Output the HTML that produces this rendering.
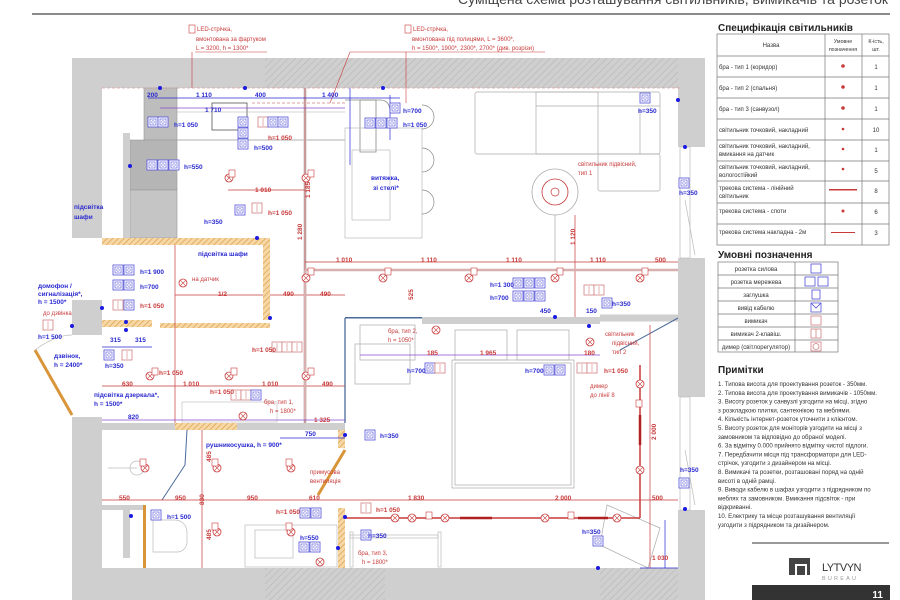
<!DOCTYPE html>
<html><head><meta charset="utf-8"><style>
html,body{margin:0;padding:0;background:#fff;width:900px;height:600px;overflow:hidden}
svg{display:block}
text{font-family:"Liberation Sans","DejaVu Sans",sans-serif}
.r{fill:#c83a3a;font-size:6px}
.b{fill:#2a2ad0;font-size:6.5px;font-weight:bold}
.rd{fill:#c83a3a;font-size:6.5px;font-weight:bold}
.t{fill:#333;font-size:6px}
.n{fill:#333;font-size:6.1px}
</style></head><body>
<svg width="900" height="600" viewBox="0 0 900 600" xmlns="http://www.w3.org/2000/svg">
<defs>
<pattern id="h" width="5" height="5" patternUnits="userSpaceOnUse" patternTransform="rotate(45)"><rect width="5" height="5" fill="#cfcfcf"/><line x1="0" y1="0" x2="0" y2="5" stroke="#b3b3b3" stroke-width="1"/></pattern>
<pattern id="o" width="4" height="4" patternUnits="userSpaceOnUse" patternTransform="rotate(45)"><rect width="4" height="4" fill="#f6d7a6"/><line x1="0" y1="0" x2="0" y2="4" stroke="#d9953a" stroke-width="1.2"/></pattern>
<g id="sk"><rect x="0" y="0" width="10" height="10" fill="#fff" stroke="#5050d8" stroke-width="0.8"/><rect x="2" y="2" width="6" height="6" fill="none" stroke="#5050d8" stroke-width="0.6"/><circle cx="5" cy="5" r="1.3" fill="none" stroke="#5050d8" stroke-width="0.5"/></g>
<g id="sw"><rect x="0" y="0" width="10" height="10" fill="#fff" stroke="#d08080" stroke-width="0.8"/><line x1="5" y1="1" x2="5" y2="9" stroke="#d08080" stroke-width="0.6"/></g>
<g id="lp"><circle cx="0" cy="0" r="4" fill="#fff" stroke="#c83a3a" stroke-width="0.8"/><line x1="-2.8" y1="-2.8" x2="2.8" y2="2.8" stroke="#c83a3a" stroke-width="0.6"/><line x1="2.8" y1="-2.8" x2="-2.8" y2="2.8" stroke="#c83a3a" stroke-width="0.6"/></g>
<g id="tg"><rect x="0" y="0" width="6" height="7" fill="#fff" stroke="#c83a3a" stroke-width="0.6"/></g>
</defs>

<!-- header -->
<text x="888" y="4" text-anchor="end" font-size="14" fill="#444">Суміщена схема розташування світильників, вимикачів та розеток</text>
<line x1="32" y1="14" x2="890" y2="14" stroke="#444" stroke-width="1.2"/>

<!-- walls -->
<rect x="72" y="58" width="606" height="30" fill="#cfcfcf"/>
<rect x="265" y="58" width="413" height="30" fill="url(#h)"/>
<rect x="72" y="58" width="30" height="180" fill="#cfcfcf"/>
<rect x="72" y="300" width="30" height="35" fill="#cfcfcf"/>
<rect x="72" y="417" width="30" height="183" fill="#cfcfcf"/>
<rect x="72" y="568" width="606" height="32" fill="#cfcfcf"/>
<rect x="265" y="568" width="120" height="32" fill="url(#h)"/>
<rect x="600" y="568" width="78" height="32" fill="url(#h)"/>
<rect x="678" y="58" width="27" height="89" fill="#cfcfcf"/>
<rect x="678" y="258" width="27" height="139" fill="#cfcfcf"/>
<rect x="678" y="510" width="27" height="90" fill="#cfcfcf"/>
<g fill="none" stroke="#bbb" stroke-width="0.7">
<rect x="680" y="147" width="10" height="111"/><rect x="680" y="397" width="10" height="113"/>
<line x1="685" y1="200" x2="695" y2="255"/><line x1="685" y1="450" x2="695" y2="505"/>
</g>
<line x1="35" y1="350" x2="72" y2="415" stroke="#d9953a" stroke-width="3"/>
<path d="M35 350 Q55 335 72 335" fill="none" stroke="#bbb" stroke-width="0.7"/>

<!-- LED callouts -->
<g stroke="#c83a3a" stroke-width="0.6" fill="#fff">
<rect x="189" y="25" width="6" height="8"/><rect x="405" y="25" width="6" height="8"/>
<line x1="195" y1="52" x2="267" y2="52"/><line x1="192" y1="52" x2="192" y2="88"/>
<line x1="350" y1="52" x2="545" y2="52"/><line x1="350" y1="52" x2="330" y2="103"/><line x1="406" y1="52" x2="406" y2="103"/>
</g>

<!-- kitchen -->
<rect x="144" y="88" width="33" height="52" fill="#bdbdbd" stroke="#999" stroke-width="0.6"/>
<rect x="130" y="140" width="47" height="50" fill="#b5b5b5" stroke="#999" stroke-width="0.6"/>
<rect x="130" y="190" width="47" height="48" fill="#c5c5c5" stroke="#999" stroke-width="0.6"/>
<rect x="123" y="133" width="7" height="105" fill="#cfcfcf"/>
<line x1="177" y1="140" x2="345" y2="140" stroke="#999" stroke-width="0.7"/>
<rect x="212" y="103" width="35" height="27" fill="none" stroke="#555" stroke-width="0.8"/>
<line x1="177" y1="112" x2="345" y2="112" stroke="#aaa" stroke-width="0.6"/>
<line x1="252" y1="103" x2="345" y2="103" stroke="#d08080" stroke-width="0.7" stroke-dasharray="3 2"/>
<path d="M360 100 L360 152 L376 152 L376 100 Z" fill="none" stroke="#888" stroke-width="0.8"/>
<path d="M345 100 H380 Q390 100 390 112" fill="none" stroke="#888" stroke-width="0.8"/>
<rect x="345" y="128" width="77" height="110" fill="none" stroke="#bbb" stroke-width="0.7"/>
<rect x="352" y="150" width="38" height="70" fill="none" stroke="#bbb" stroke-width="0.7"/>
<g fill="none" stroke="#888" stroke-width="0.7"><path d="M422 105 a12 12 0 0 1 0 24"/><path d="M422 148 a12 12 0 0 1 0 24"/><path d="M422 190 a12 12 0 0 1 0 24"/></g>
<line x1="102" y1="88" x2="680" y2="88" stroke="#e0a0a0" stroke-width="0.8" stroke-dasharray="3 2"/>

<!-- sofa -->
<g fill="none" stroke="#aaa" stroke-width="0.7">
<rect x="475" y="92" width="185" height="62" rx="2"/><rect x="536" y="92" width="62" height="62"/><line x1="536" y1="106" x2="660" y2="106"/>
<rect x="598" y="154" width="62" height="37" rx="2"/><line x1="640" y1="110" x2="640" y2="154"/>
</g>
<circle cx="555" cy="192" r="23" fill="none" stroke="#aaa" stroke-width="0.8"/>
<circle cx="555" cy="192" r="13" fill="none" stroke="#c83a3a" stroke-width="0.8"/>
<circle cx="555" cy="192" r="4" fill="none" stroke="#c83a3a" stroke-width="0.7"/>
<line x1="555" y1="215" x2="555" y2="262" stroke="#aaa" stroke-width="0.7"/>

<!-- hallway orange walls -->
<rect x="102" y="238" width="168" height="7" fill="url(#o)"/>
<rect x="263" y="238" width="7" height="82" fill="url(#o)"/>
<rect x="102" y="320" width="50" height="7" fill="url(#o)"/>
<rect x="160" y="323" width="110" height="5" fill="url(#o)"/>
<rect x="102" y="423" width="243" height="7" fill="#cfcfcf"/>
<rect x="175" y="423" width="62" height="7" fill="url(#o)"/>
<line x1="305" y1="88" x2="305" y2="423" stroke="#ccc" stroke-width="3"/>
<rect x="422" y="317" width="178" height="7" fill="#cfcfcf"/>
<rect x="345" y="317" width="77" height="1.5" fill="#4a6a9a"/>
<line x1="345" y1="318" x2="345" y2="423" stroke="#4a6a9a" stroke-width="1.3"/>
<line x1="600" y1="318" x2="678" y2="318" stroke="#cfcfcf" stroke-width="7"/>
<line x1="620" y1="350" x2="678" y2="318" stroke="#4a6a9a" stroke-width="1"/>
<rect x="338" y="430" width="7" height="18" fill="url(#o)"/>
<line x1="345" y1="450" x2="318" y2="495" stroke="#d9953a" stroke-width="3"/>
<rect x="338" y="508" width="7" height="60" fill="url(#o)"/>
<path d="M187 430 L185 465 L162 500" fill="none" stroke="#4a6a9a" stroke-width="1"/>
<rect x="102" y="505" width="44" height="5" fill="#cfcfcf"/>
<rect x="123" y="510" width="7" height="48" fill="#cfcfcf"/>
<rect x="143" y="505" width="3" height="63" fill="#d9953a"/>
<rect x="355" y="344" width="55" height="40" fill="none" stroke="#aaa" stroke-width="0.7"/>
<rect x="182" y="402" width="95" height="20" fill="none" stroke="#bbb" stroke-width="0.6"/>

<!-- bathroom fixtures -->
<g fill="none" stroke="#bbb" stroke-width="0.7">
<circle cx="137" cy="468" r="7"/><line x1="108" y1="468" x2="137" y2="468"/>
<path d="M153 520 H175 a12 12 0 0 1 12 12 v10 a10 10 0 0 1 -10 10 H153 Z"/>
<rect x="245" y="525" width="92" height="42"/><rect x="255" y="530" width="38" height="28"/>
<rect x="350" y="535" width="88" height="3"/><rect x="350" y="532" width="3" height="35"/><rect x="438" y="532" width="3" height="35"/>
</g>

<!-- bed -->
<g fill="none" stroke="#aaa" stroke-width="0.7">
<rect x="452" y="360" width="122" height="128"/><rect x="455" y="363" width="116" height="122"/>
<rect x="455" y="330" width="52" height="30"/><rect x="517" y="330" width="52" height="30"/>
<rect x="360" y="325" width="55" height="35"/>
<path d="M607 505 L660 528 L648 568 L600 545 Z"/>
</g>

<!-- red dimension & track lines -->
<g stroke="#c83a3a" stroke-width="0.7" fill="none">
<line x1="305" y1="262" x2="678" y2="262"/>
<line x1="270" y1="295" x2="345" y2="295"/>
<line x1="102" y1="386" x2="345" y2="386"/>
<line x1="102" y1="500" x2="678" y2="500"/>
<line x1="305" y1="88" x2="305" y2="423"/>
<line x1="202" y1="430" x2="202" y2="568"/>
<line x1="228" y1="190" x2="305" y2="190"/>
<line x1="175" y1="295" x2="263" y2="295"/>
<line x1="175" y1="245" x2="175" y2="423"/>
<line x1="575" y1="215" x2="575" y2="317"/>
<line x1="650" y1="325" x2="650" y2="568"/>
<line x1="390" y1="95" x2="390" y2="140" stroke="#2a2ad0"/>
<line x1="350" y1="88" x2="350" y2="165" stroke="#2a2ad0"/>
</g>
<g stroke="#d8b0b0" stroke-width="2.5"><line x1="305" y1="270" x2="678" y2="270"/><line x1="305" y1="270" x2="305" y2="420"/></g>
<g stroke="#c83a3a" stroke-width="1.5" fill="none">
<line x1="345" y1="518" x2="640" y2="518"/><line x1="640" y1="365" x2="640" y2="518"/>
</g>
<g stroke="#b02020" stroke-width="2.5"><line x1="460" y1="518" x2="492" y2="518"/><line x1="578" y1="518" x2="608" y2="518"/><line x1="640" y1="415" x2="640" y2="445"/></g>
<g stroke="#8a4ad0" stroke-width="0.7"><line x1="360" y1="355" x2="600" y2="355"/><line x1="102" y1="420" x2="345" y2="420"/><line x1="160" y1="108" x2="345" y2="108"/></g>
<g stroke="#2a2ad0" stroke-width="0.7"><line x1="148" y1="98" x2="400" y2="98"/><line x1="102" y1="347" x2="152" y2="347"/><line x1="345" y1="438" x2="280" y2="438"/><line x1="640" y1="568" x2="678" y2="568"/><line x1="665" y1="520" x2="665" y2="568"/></g>

<!-- lamps -->
<use href="#lp" x="229" y="178"/><use href="#lp" x="306" y="178"/><use href="#lp" x="306" y="278"/><use href="#lp" x="383" y="278"/><use href="#lp" x="469" y="278"/><use href="#lp" x="555" y="278"/><use href="#lp" x="640" y="278"/>
<use href="#lp" x="183" y="283"/><use href="#lp" x="150" y="376"/><use href="#lp" x="229" y="376"/><use href="#lp" x="306" y="376"/><use href="#lp" x="243" y="416"/>
<use href="#lp" x="145" y="468"/><use href="#lp" x="217" y="468"/><use href="#lp" x="291" y="468"/><use href="#lp" x="217" y="532"/><use href="#lp" x="291" y="532"/><use href="#lp" x="320" y="562"/><use href="#lp" x="436" y="330"/><use href="#lp" x="590" y="342"/>
<use href="#lp" x="395" y="518"/><use href="#lp" x="445" y="518"/><use href="#lp" x="545" y="518"/><use href="#lp" x="617" y="518"/><use href="#lp" x="640" y="384"/><use href="#lp" x="640" y="470"/><use href="#lp" x="412" y="518"/>
<g><use href="#tg" x="229" y="170"/><use href="#tg" x="308" y="170"/><use href="#tg" x="308" y="268"/><use href="#tg" x="385" y="268"/><use href="#tg" x="471" y="268"/><use href="#tg" x="557" y="268"/><use href="#tg" x="642" y="268"/><use href="#tg" x="152" y="368"/><use href="#tg" x="231" y="368"/><use href="#tg" x="308" y="368"/><use href="#tg" x="212" y="459"/><use href="#tg" x="286" y="459"/><use href="#tg" x="212" y="523"/><use href="#tg" x="286" y="523"/><use href="#tg" x="140" y="459"/><use href="#tg" x="426" y="512"/><use href="#tg" x="568" y="512"/><use href="#tg" x="636" y="400"/></g>

<!-- sockets & switches -->
<use href="#sk" x="148" y="117"/><use href="#sk" x="158" y="117"/>
<use href="#sk" x="238" y="117"/><use href="#sk" x="238" y="128"/><use href="#sk" x="238" y="139"/>
<use href="#sw" x="258" y="117"/><use href="#sk" x="268" y="117"/><use href="#sk" x="278" y="117"/>
<use href="#sk" x="147" y="160"/><use href="#sk" x="158" y="160"/><use href="#sk" x="169" y="160"/>
<use href="#sk" x="390" y="103"/><use href="#sk" x="365" y="118"/><use href="#sk" x="376" y="118"/><use href="#sk" x="387" y="118"/>
<use href="#sk" x="235" y="205"/><use href="#sw" x="252" y="203"/>
<use href="#sk" x="640" y="93"/><use href="#sk" x="679" y="178"/>
<use href="#sk" x="113" y="265"/><use href="#sk" x="124" y="265"/><use href="#sk" x="113" y="280"/><use href="#sk" x="124" y="280"/><use href="#sw" x="113" y="300"/><use href="#sk" x="124" y="300"/>
<use href="#sk" x="104" y="350"/><use href="#sw" x="122" y="350"/><use href="#sw" x="43" y="320"/>
<use href="#sw" x="272" y="342"/><use href="#sw" x="282" y="342"/><use href="#sw" x="292" y="342"/>
<use href="#sw" x="231" y="390"/><use href="#sw" x="241" y="390"/><use href="#sk" x="251" y="390"/>
<use href="#sk" x="365" y="430"/><use href="#sk" x="151" y="510"/>
<use href="#sk" x="300" y="508"/><use href="#sk" x="311" y="508"/><use href="#sk" x="299" y="542"/><use href="#sk" x="310" y="542"/><use href="#sk" x="361" y="530"/>
<use href="#sw" x="361" y="503"/>
<use href="#sk" x="513" y="278"/><use href="#sk" x="524" y="278"/><use href="#sk" x="535" y="278"/><use href="#sk" x="513" y="291"/><use href="#sk" x="524" y="291"/><use href="#sk" x="535" y="291"/>
<use href="#sw" x="584" y="285"/><use href="#sw" x="594" y="285"/><use href="#sk" x="602" y="298"/>
<use href="#sk" x="425" y="363"/><use href="#sw" x="435" y="363"/><use href="#sk" x="544" y="365"/><use href="#sk" x="555" y="365"/><use href="#sw" x="577" y="363"/><use href="#sw" x="587" y="363"/>
<use href="#sk" x="679" y="478"/><use href="#sk" x="593" y="536"/>
<g fill="#1a1ae0"><circle cx="160" cy="88" r="2"/><circle cx="245" cy="88" r="2"/><circle cx="383" cy="88" r="2"/><circle cx="678" cy="100" r="2"/><circle cx="685" cy="147" r="2"/><circle cx="130" cy="166" r="2"/><circle cx="257" cy="238" r="2"/><circle cx="126" cy="322" r="2"/><circle cx="126" cy="330" r="2"/><circle cx="102" cy="308" r="2"/><circle cx="270" cy="318" r="2"/><circle cx="345" cy="435" r="2"/><circle cx="131" cy="516" r="2"/><circle cx="345" cy="517" r="2"/><circle cx="338" cy="548" r="2"/><circle cx="555" cy="317" r="2"/><circle cx="589" cy="326" r="2"/><circle cx="598" cy="568" r="2"/><circle cx="685" cy="509" r="2"/><circle cx="72" cy="326" r="2"/></g>

<!-- labels plan -->
<g class="b">
<text x="174" y="127">h=1 050</text><text x="254" y="150">h=500</text><text x="204" y="224">h=350</text><text x="184" y="169">h=550</text>
<text x="403" y="113">h=700</text><text x="403" y="127">h=1 050</text><text x="638" y="113">h=350</text><text x="679" y="195">h=350</text>
<text x="140" y="274">h=1 900</text><text x="140" y="289">h=700</text><text x="105" y="368">h=350</text><text x="38" y="339">h=1 500</text>
<text x="380" y="438">h=350</text><text x="167" y="519">h=1 500</text><text x="368" y="538">h=350</text><text x="300" y="540">h=550</text>
<text x="490" y="287">h=1 300</text><text x="490" y="300">h=700</text><text x="612" y="306">h=350</text><text x="407" y="373">h=700</text><text x="525" y="373">h=700</text>
<text x="680" y="472">h=350</text><text x="582" y="534">h=350</text>
<text x="147" y="97">200</text><text x="196" y="97">1 110</text><text x="255" y="97">400</text><text x="322" y="97">1 400</text><text x="205" y="112">1 710</text>
<text x="540" y="313">450</text><text x="586" y="313">150</text>
<text x="110" y="342">315</text><text x="135" y="342">315</text><text x="128" y="419">820</text><text x="305" y="436">750</text>
</g>
<g class="r">
<text x="197" y="31">LED-стрічка,</text><text x="196" y="41">вмонтована за фартуком</text><text x="196" y="50">L = 3200, h = 1300*</text>
<text x="413" y="31">LED-стрічка,</text><text x="412" y="41">вмонтована під полицями, L = 3600*,</text><text x="412" y="50">h = 1500*, 1900*, 2300*, 2700* (див. розрізи)</text>
<text x="578" y="166">світильник підвісний,</text><text x="578" y="175">тип 1</text>
<text x="605" y="336">світильник</text><text x="612" y="345">підвісний,</text><text x="612" y="354">тип 2</text>
<text x="388" y="333">бра, тип 2,</text><text x="388" y="342">h = 1050*</text>
<text x="264" y="404">бра, тип 1,</text><text x="270" y="413">h = 1800*</text>
<text x="358" y="555">бра, тип 3,</text><text x="362" y="564">h = 1800*</text>
<text x="310" y="474">примусова</text><text x="310" y="483">вентиляція</text>
<text x="590" y="388">димер</text><text x="590" y="397">до лінії 8</text>
<text x="192" y="281">на датчик</text><text x="43" y="315">до дзвінка</text>
</g>
<g class="rd">
<text x="255" y="192">1 010</text><text x="336" y="262">1 010</text><text x="421" y="262">1 110</text><text x="506" y="262">1 110</text><text x="590" y="262">1 110</text><text x="655" y="262">500</text>
<text x="218" y="296">1/2</text><text x="283" y="296">490</text><text x="320" y="296">490</text>
<text x="122" y="386">630</text><text x="183" y="386">1 010</text><text x="262" y="386">1 010</text><text x="322" y="386">490</text>
<text x="119" y="500">550</text><text x="175" y="500">950</text><text x="247" y="500">950</text><text x="309" y="500">610</text><text x="408" y="500">1 830</text><text x="555" y="500">2 000</text><text x="652" y="500">500</text>
<text x="480" y="355">1 965</text><text x="427" y="355">185</text><text x="584" y="355">180</text>
<text x="314" y="422">1 325</text><text x="652" y="560">1 030</text>
<text x="159" y="375">h=1 050</text><text x="210" y="394">h=1 050</text><text x="252" y="352">h=1 050</text><text x="268" y="215">h=1 050</text><text x="268" y="140">h=1 050</text>
<text x="376" y="512">h=1 050</text><text x="276" y="514">h=1 050</text><text x="604" y="373">h=1 050</text><text x="140" y="308">h=1 050</text>
</g>
<g class="b" font-weight="normal">
<text x="74" y="209">підсвітка</text><text x="74" y="219">шафи</text><text x="198" y="256">підсвітка шафи</text>
<text x="371" y="180">витяжка,</text><text x="373" y="190">зі стелі*</text>
<text x="38" y="288">домофон /</text><text x="38" y="296">сигналізація*,</text><text x="38" y="304">h = 1500*</text>
<text x="54" y="358">дзвінок,</text><text x="54" y="367">h = 2400*</text>
<text x="94" y="397">підсвітка дзеркала*,</text><text x="94" y="406">h = 1500*</text>
<text x="206" y="447">рушникосушка, h = 900*</text>
</g>
<g class="rd" font-size="5.5"><text transform="translate(310,198) rotate(-90)">1 185</text><text transform="translate(302,240) rotate(-90)">1 280</text><text transform="translate(575,245) rotate(-90)">1 120</text><text transform="translate(413,300) rotate(-90)">525</text><text transform="translate(656,440) rotate(-90)">2 000</text><text transform="translate(211,462) rotate(-90)">485</text><text transform="translate(211,540) rotate(-90)">485</text><text transform="translate(204,505) rotate(-90)">830</text></g>

<!-- right panel: spec -->
<text x="718" y="31" font-size="10" font-weight="bold" fill="#222">Специфікація світильників</text>
<g stroke="#777" stroke-width="0.7" fill="none">
<rect x="717" y="34" width="172" height="211"/>
<line x1="825" y1="34" x2="825" y2="245"/><line x1="862" y1="34" x2="862" y2="245"/>
<line x1="717" y1="56" x2="889" y2="56"/><line x1="717" y1="77" x2="889" y2="77"/><line x1="717" y1="98" x2="889" y2="98"/><line x1="717" y1="119" x2="889" y2="119"/><line x1="717" y1="140" x2="889" y2="140"/><line x1="717" y1="161" x2="889" y2="161"/><line x1="717" y1="181" x2="889" y2="181"/><line x1="717" y1="203" x2="889" y2="203"/><line x1="717" y1="224" x2="889" y2="224"/>
</g>
<g class="t">
<text x="771" y="47" text-anchor="middle">Назва</text><text x="843" y="43" text-anchor="middle" font-size="5.3">Умовне</text><text x="843" y="51" text-anchor="middle" font-size="5.3">позначення</text><text x="876" y="43" text-anchor="middle" font-size="5.3">К-ість,</text><text x="876" y="51" text-anchor="middle" font-size="5.3">шт.</text>
<text x="719" y="69">бра - тип 1 (коридор)</text><text x="719" y="90">бра - тип 2 (спальня)</text><text x="719" y="111">бра - тип 3 (санвузол)</text><text x="719" y="132">світильник точковий, накладний</text>
<text x="719" y="148">світильник точковий, накладний,</text><text x="719" y="156">вмикання на датчик</text>
<text x="719" y="169">світильник точковий, накладний,</text><text x="719" y="177">вологостійкий</text>
<text x="719" y="190">трекова система - лінійний</text><text x="719" y="198">світильник</text>
<text x="719" y="213">трекова система - споти</text><text x="719" y="234">трекова система накладна - 2м</text>
<text x="876" y="69" text-anchor="middle">1</text><text x="876" y="90" text-anchor="middle">1</text><text x="876" y="111" text-anchor="middle">1</text><text x="876" y="132" text-anchor="middle">10</text><text x="876" y="152" text-anchor="middle">1</text><text x="876" y="173" text-anchor="middle">5</text><text x="876" y="193" text-anchor="middle">8</text><text x="876" y="214" text-anchor="middle">6</text><text x="876" y="235" text-anchor="middle">3</text>
</g>
<g fill="#c83a3a"><circle cx="843" cy="66" r="1.8"/><circle cx="843" cy="87" r="1.8"/><circle cx="843" cy="108" r="1.8"/><circle cx="843" cy="129" r="1.3"/><circle cx="843" cy="149" r="1.3"/><circle cx="843" cy="169" r="1.3"/><circle cx="843" cy="211" r="1.5"/>
<rect x="829" y="189" width="28" height="1.5"/><rect x="831" y="232" width="24" height="1"/></g>

<!-- legend -->
<text x="718" y="258" font-size="10" font-weight="bold" fill="#222">Умовні позначення</text>
<g stroke="#777" stroke-width="0.7" fill="none">
<rect x="718" y="262" width="120" height="90"/><line x1="795" y1="262" x2="795" y2="352"/>
<line x1="718" y1="275" x2="838" y2="275"/><line x1="718" y1="288" x2="838" y2="288"/><line x1="718" y1="301" x2="838" y2="301"/><line x1="718" y1="314" x2="838" y2="314"/><line x1="718" y1="327" x2="838" y2="327"/><line x1="718" y1="340" x2="838" y2="340"/>
</g>
<g class="t" font-size="5.5" text-anchor="middle"><text x="756" y="271">розетка силова</text><text x="756" y="284">розетка мережева</text><text x="756" y="297">заглушка</text><text x="756" y="310">вивід кабелю</text><text x="756" y="323">вимикач</text><text x="756" y="336">вимикач 2-клавіш.</text><text x="756" y="349">димер (світлорегулятор)</text></g>
<g fill="none" stroke-width="0.8">
<rect x="811" y="264" width="10" height="9" stroke="#5050d8"/><rect x="805" y="277" width="10" height="9" stroke="#5050d8"/><rect x="818" y="277" width="10" height="9" stroke="#5050d8"/><rect x="812" y="290" width="8" height="9" stroke="#5050d8"/><path d="M811 303 h10 v9 h-10 z M811 303 l5 5 l5 -5" stroke="#5050d8"/>
<rect x="811" y="316" width="10" height="9" stroke="#d08080"/><rect x="811" y="329" width="10" height="9" stroke="#d08080"/><line x1="816" y1="329" x2="816" y2="338" stroke="#d08080"/><rect x="811" y="342" width="10" height="9" stroke="#d08080"/><circle cx="816" cy="346.5" r="3" stroke="#d08080"/>
</g>

<!-- notes -->
<text x="718" y="373" font-size="10" font-weight="bold" fill="#222">Примітки</text>
<g class="n">
<text x="718" y="386">1. Типова висота для проектування розеток - 350мм.</text>
<text x="718" y="394.8">2. Типова висота для проектування вимикачів - 1050мм.</text>
<text x="718" y="403.6">3. Висоту розеток у санвузлі узгодити на місці, згідно</text>
<text x="718" y="412.4">з розкладкою плитки, сантехнікою та меблями.</text>
<text x="718" y="421.2">4. Кількість інтернет-розеток уточнити з клієнтом.</text>
<text x="718" y="430">5. Висоту розеток для моніторів узгодити на місці з</text>
<text x="718" y="438.8">замовником та відповідно до обраної моделі.</text>
<text x="718" y="447.6">6. За відмітку 0.000 прийнято відмітку чистої підлоги.</text>
<text x="718" y="456.4">7. Передбачити місця під трансформатори для LED-</text>
<text x="718" y="465.2">стрічок, узгодити з дизайнером на місці.</text>
<text x="718" y="474">8. Вимикачі та розетки, розташовані поряд на одній</text>
<text x="718" y="482.8">висоті в одній рамці.</text>
<text x="718" y="491.6">9. Виводи кабелю в шафах узгодити з підрядником по</text>
<text x="718" y="500.4">меблях та замовником. Вмикання підсвіток - при</text>
<text x="718" y="509.2">відкриванні.</text>
<text x="718" y="518">10. Електрику та місце розташування вентиляції</text>
<text x="718" y="526.8">узгодити з підрядником та дизайнером.</text>
</g>
<line x1="752" y1="543" x2="889" y2="543" stroke="#333" stroke-width="1"/>
<rect x="789" y="558" width="21" height="17" fill="#444"/><rect x="795" y="564" width="12" height="11" fill="#fff"/><rect x="797" y="566" width="8" height="9" fill="#444"/>
<text x="822" y="571" font-size="11" fill="#333" letter-spacing="-0.5">LYTVYN</text>
<text x="822" y="580" font-size="5.5" fill="#999" letter-spacing="2.2">BUREAU</text>
<rect x="752" y="585" width="138" height="15" fill="#333"/>
<text x="883" y="598" text-anchor="end" font-size="10" font-weight="bold" fill="#fff">11</text>
</svg>
</body></html>
